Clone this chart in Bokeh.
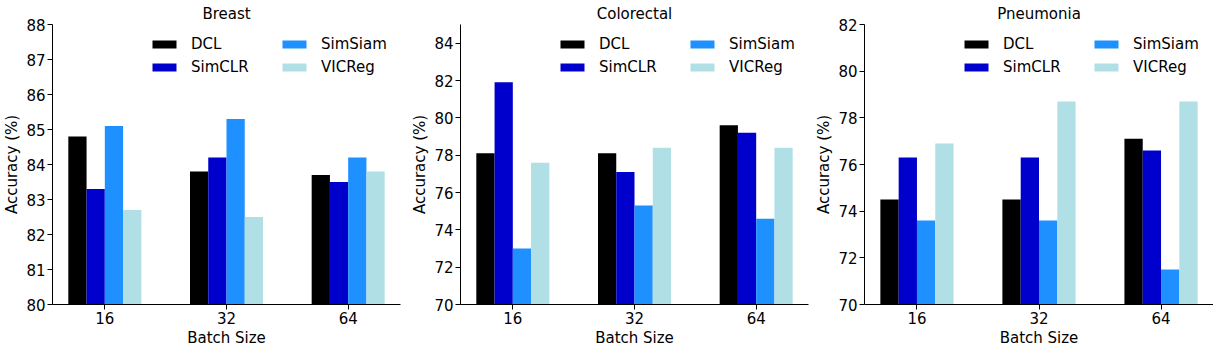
from bokeh.plotting import figure
from bokeh.models import ColumnDataSource, Legend, LegendItem, FixedTicker, Range1d
from bokeh.layouts import row
from bokeh.transform import dodge
from bokeh.embed import file_html
from bokeh.resources import INLINE

batch_sizes = ["16", "32", "64"]
methods = ["DCL", "SimCLR", "SimSiam", "VICReg"]
colors = ["#000000", "#0000CD", "#1E90FF", "#B0E0E6"]

breast_dcl = [84.8, 83.8, 83.7]
breast_simclr = [83.3, 84.2, 83.5]
breast_simsiam = [85.1, 85.3, 84.2]
breast_vicreg = [82.7, 82.5, 83.8]

colorectal_dcl = [78.1, 78.1, 79.6]
colorectal_simclr = [81.9, 77.1, 79.2]
colorectal_simsiam = [73.0, 75.3, 74.6]
colorectal_vicreg = [77.6, 78.4, 78.4]

pneumonia_dcl = [74.5, 74.5, 77.1]
pneumonia_simclr = [76.3, 76.3, 76.6]
pneumonia_simsiam = [73.6, 73.6, 71.5]
pneumonia_vicreg = [76.9, 78.7, 78.7]

FONT = "DejaVu Sans"


def make_panel(title, series, y0, y1, yticks, left, frame_w, right):
    data = dict(x=list(range(len(batch_sizes))))
    for m, s in zip(methods, series):
        data[m] = s
    src = ColumnDataSource(data)
    p = figure(frame_width=frame_w, frame_height=280,
               x_range=Range1d(-0.43, 2.43), y_range=Range1d(y0, y1),
               output_backend="svg", toolbar_location=None,
               min_border_left=left, min_border_right=right,
               min_border_top=24, min_border_bottom=0)
    p.outline_line_color = None
    p.xgrid.visible = False
    p.ygrid.visible = False
    p.background_fill_color = "white"

    p.title.text = title
    p.title.align = "center"
    p.title.text_font = FONT
    p.title.text_font_size = "15px"
    p.title.text_font_style = "normal"
    p.title.text_color = "black"
    p.title.standoff = 4
    p.title.offset = 0

    renderers = []
    n = len(methods)
    w = 0.15
    for i, m in enumerate(methods):
        off = (i - (n - 1) / 2) * w
        r = p.vbar(x=dodge("x", off), top=m, bottom=0, width=w,
                   fill_color=colors[i], line_color=None, source=src)
        renderers.append(r)

    p.xaxis.ticker = FixedTicker(ticks=list(range(len(batch_sizes))))
    p.xaxis.major_label_overrides = {i: b for i, b in enumerate(batch_sizes)}
    p.yaxis.ticker = FixedTicker(ticks=yticks)
    p.xaxis.axis_label = "Batch Size"
    p.yaxis.axis_label = "Accuracy (%)"
    for ax in (p.xaxis[0], p.yaxis[0]):
        ax.minor_tick_line_color = None
        ax.major_tick_in = 0
        ax.major_tick_out = 5
        ax.major_tick_line_color = "black"
        ax.axis_line_color = "black"
        ax.axis_line_width = 1
        ax.major_label_text_font = FONT
        ax.major_label_text_font_size = "15px"
        ax.major_label_text_color = "black"
        ax.axis_label_text_font = FONT
        ax.axis_label_text_font_size = "15px"
        ax.axis_label_text_font_style = "normal"
        ax.axis_label_text_color = "black"
        ax.major_label_standoff = 2
        ax.axis_label_standoff = 2

    for cols, loc in (((0, 1), (97, 227)), ((2, 3), (227, 227))):
        items = [LegendItem(label=methods[i], renderers=[renderers[i]]) for i in cols]
        lg = Legend(items=items, location=loc, orientation="vertical",
                    padding=0, margin=0, spacing=3,
                    glyph_width=30, glyph_height=10, label_height=20,
                    label_standoff=12, label_text_font=FONT,
                    label_text_font_size="15px", label_text_color="black",
                    border_line_color=None, background_fill_alpha=0)
        p.add_layout(lg)
    return p


p1 = make_panel("Breast", [breast_dcl, breast_simclr, breast_simsiam, breast_vicreg],
                80, 88, list(range(80, 89)), 44, 348, 8)
p2 = make_panel("Colorectal", [colorectal_dcl, colorectal_simclr, colorectal_simsiam, colorectal_vicreg],
                70, 85, list(range(70, 85, 2)), 49, 348, 3)
p3 = make_panel("Pneumonia", [pneumonia_dcl, pneumonia_simclr, pneumonia_simsiam, pneumonia_vicreg],
                70, 82, list(range(70, 83, 2)), 53, 349, 0)

layout = row(p1, p2, p3, spacing=0)
open("out.html", "w").write(file_html(layout, INLINE))
